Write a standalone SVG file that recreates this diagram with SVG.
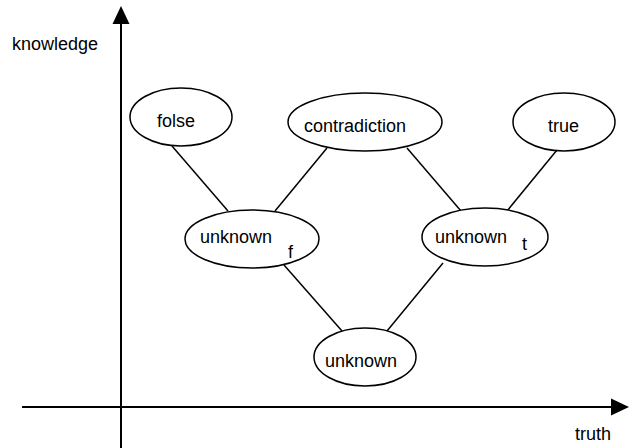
<svg xmlns="http://www.w3.org/2000/svg" width="632" height="448" viewBox="0 0 632 448">
<style>
text{font-family:"Liberation Sans",Arial,sans-serif;font-size:18px;fill:#000}
.n ellipse{fill:#fff;stroke:#000;stroke-width:1.5}
.c line{stroke:#000;stroke-width:1.5}
.ax{stroke:#000;stroke-width:2}
</style>
<g id="axes">
<line class="ax" x1="121" y1="22" x2="121" y2="448"/>
<polygon points="121,6 112.5,24 129.5,24" fill="#000"/>
<line class="ax" x1="22" y1="407" x2="612" y2="407"/>
<polygon points="629,407 611,398.5 611,415.5" fill="#000"/>
<text x="12" y="50">knowledge</text>
<text x="575" y="440">truth</text>
</g>
<g class="c" id="connectors">
<line x1="172" y1="146" x2="228" y2="211"/>
<line x1="327" y1="148" x2="275" y2="211"/>
<line x1="407" y1="148" x2="461" y2="211"/>
<line x1="557" y1="150" x2="507" y2="211"/>
<line x1="284" y1="265" x2="342" y2="331"/>
<line x1="443" y1="263" x2="387" y2="331"/>
</g>
<g class="n" id="folse">
<ellipse cx="181" cy="117" rx="51" ry="29"/>
<text x="157" y="127">folse</text>
</g>
<g class="n" id="contradiction">
<ellipse cx="365" cy="122" rx="77" ry="29"/>
<text x="304" y="132">contradiction</text>
</g>
<g class="n" id="true">
<ellipse cx="564" cy="122" rx="51" ry="29"/>
<text x="548" y="132">true</text>
</g>
<g class="n" id="unknown_f">
<ellipse cx="252" cy="239" rx="67" ry="29"/>
<text x="200" y="243">unknown</text>
<text x="288" y="258">f</text>
</g>
<g class="n" id="unknown_t">
<ellipse cx="485" cy="237" rx="63" ry="29"/>
<text x="435" y="243">unknown</text>
<text x="522" y="250">t</text>
</g>
<g class="n" id="unknown">
<ellipse cx="365" cy="357" rx="51" ry="29"/>
<text x="325" y="367">unknown</text>
</g>
</svg>
